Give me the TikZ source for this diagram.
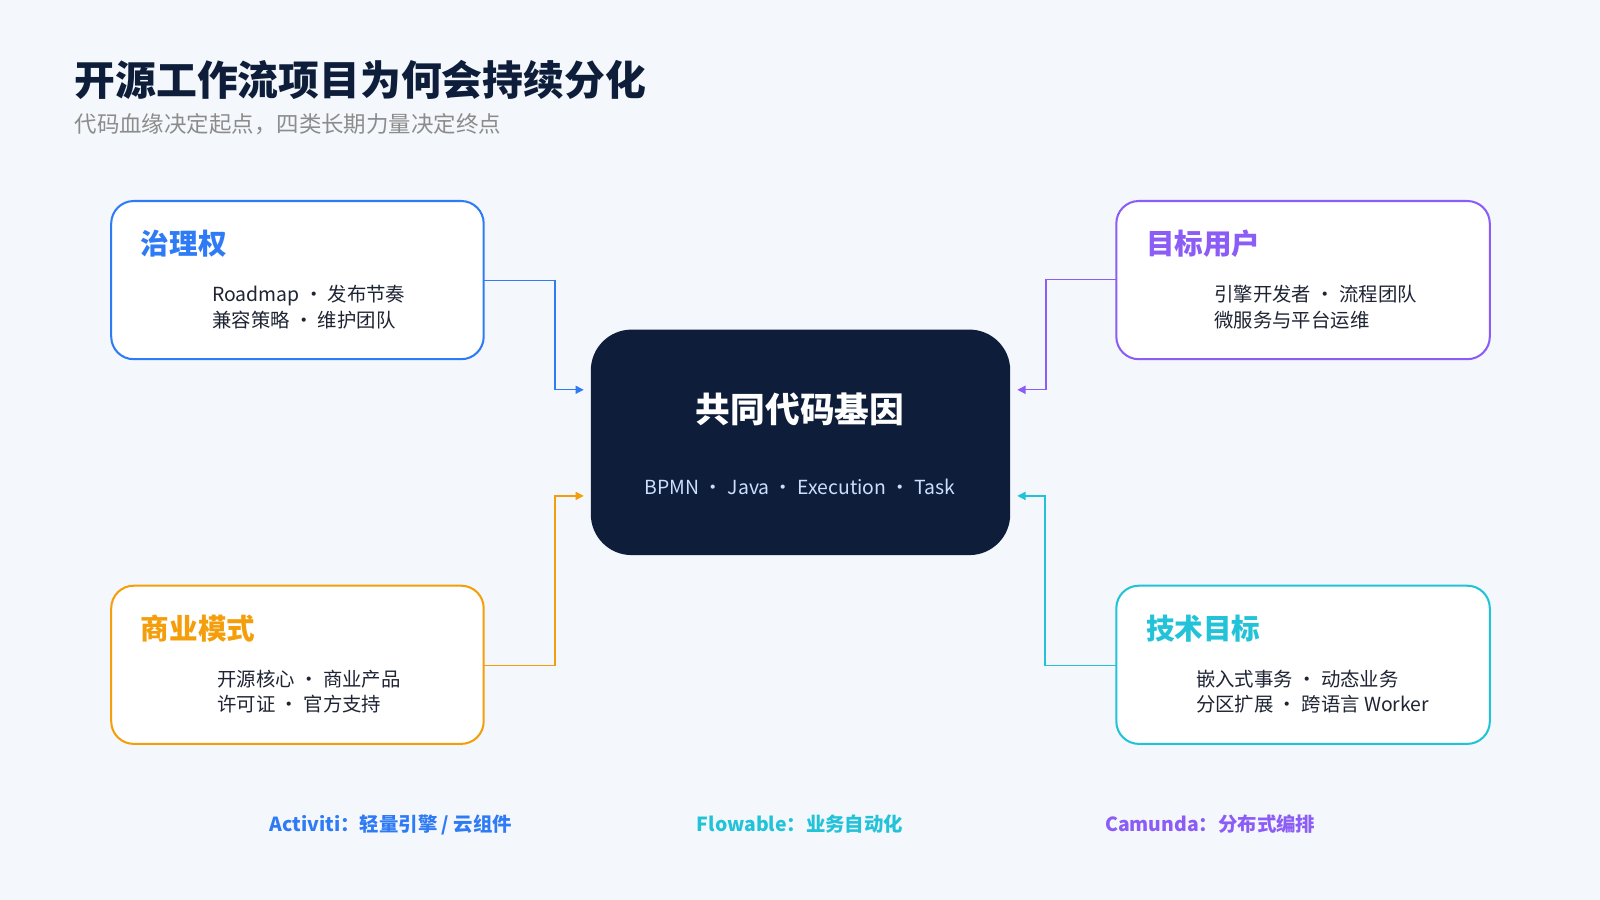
\documentclass[tikz,border=0pt]{standalone}
\usepackage{fontspec}
\setmainfont{Noto Sans CJK SC}
\usetikzlibrary{arrows.meta}
\definecolor{bg}{HTML}{F4F7FB}
\definecolor{cblue}{HTML}{2F7BF5}
\definecolor{cpurple}{HTML}{8B5CF6}
\definecolor{corange}{HTML}{F59E0B}
\definecolor{ccyan}{HTML}{22C3D8}
\definecolor{navy}{HTML}{0E1E3A}
\definecolor{ink}{HTML}{1E2433}
\begin{document}
\begin{tikzpicture}[x=0.5pt,y=-0.5pt,
  card/.style={draw=#1,line width=1pt,fill=white,rounded corners=11pt},
  ctitle/.style={anchor=west,text=#1,font=\fontsize{14}{16}\selectfont\bfseries},
  cbody/.style={anchor=west,text=ink,font=\fontsize{9.5}{12.5}\selectfont,align=left},
  conn/.style={draw=#1,line width=0.6pt,-{Triangle[length=4pt,width=4pt]}},
  foot/.style={font=\fontsize{9.5}{11}\selectfont\bfseries,text=#1}]
\fill[bg] (0,0) rectangle (1568,882);
\useasboundingbox (0,0) rectangle (1568,882);
\node[anchor=west,text=navy,font=\fontsize{20}{24}\selectfont\bfseries] (title) at (66,78) {开源工作流项目为何会持续分化};
\node[anchor=west,text=gray!90,font=\fontsize{11}{13}\selectfont] (sub) at (66,122) {代码血缘决定起点，四类长期力量决定终点};
% cards
\draw[card=cblue] (109,197) rectangle (474,352);
\node[ctitle=cblue] (t1) at (131,239) {治理权};
\node[cbody] (b1) at (201,301) {Roadmap · 发布节奏\\兼容策略 · 维护团队};
\draw[card=cpurple] (1094,197) rectangle (1460,352);
\node[ctitle=cpurple] (t2) at (1116,239) {目标用户};
\node[cbody] (b2) at (1183,301) {引擎开发者 · 流程团队\\微服务与平台运维};
\draw[card=corange] (109,574) rectangle (474,729);
\node[ctitle=corange] (t3) at (131,616) {商业模式};
\node[cbody] (b3) at (206,678) {开源核心 · 商业产品\\许可证 · 官方支持};
\draw[card=ccyan] (1094,574) rectangle (1460,729);
\node[ctitle=ccyan] (t4) at (1116,616) {技术目标};
\node[cbody] (b4) at (1165,678) {嵌入式事务 · 动态业务\\分区扩展 · 跨语言 Worker};
% center
\fill[navy,rounded corners=20pt] (579,323) rectangle (990,544);
\node[text=white,font=\fontsize{17}{20}\selectfont\bfseries] (ct) at (784,401) {共同代码基因};
\node[text=cblue!25,font=\fontsize{9.5}{12}\selectfont] (cs) at (784,477) {BPMN · Java · Execution · Task};
% connectors
\coordinate (s1) at (474,275); \coordinate (e1) at (572,382);
\coordinate (s2) at (1094,274); \coordinate (e2) at (997,382);
\coordinate (s3) at (474,652); \coordinate (e3) at (572,486);
\coordinate (s4) at (1094,652); \coordinate (e4) at (997,486);
\draw[conn=cblue] (s1) -- (544,275) |- (e1);
\draw[conn=cpurple] (s2) -- (1025,274) |- (e2);
\draw[conn=corange] (s3) -- (544,652) |- (e3);
\draw[conn=ccyan] (s4) -- (1024,652) |- (e4);
% footer
\node[foot=cblue] (f1) at (383,808) {Activiti：轻量引擎 / 云组件};
\node[foot=ccyan] (f2) at (784,808) {Flowable：业务自动化};
\node[foot=cpurple] (f3) at (1186,808) {Camunda：分布式编排};
\end{tikzpicture}
\end{document}
